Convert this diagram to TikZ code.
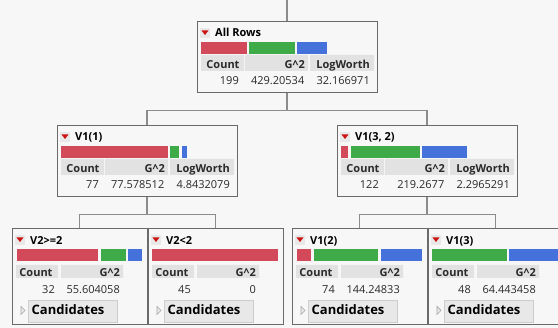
\documentclass[tikz,border=0pt]{standalone}
\usepackage{fontspec}
\setmainfont{Open Sans}
\definecolor{bgc}{HTML}{F7F7F7}
\definecolor{boxc}{HTML}{6A6A6A}
\definecolor{connc}{HTML}{8C8C8C}
\definecolor{hdrc}{HTML}{E2E2E2}
\definecolor{redc}{HTML}{D24A59}
\definecolor{greenc}{HTML}{3EAA48}
\definecolor{bluec}{HTML}{4571DB}
\definecolor{btnc}{HTML}{E8E8E8}
\definecolor{btnb}{HTML}{CDCDCD}
\definecolor{tric}{HTML}{CC1111}
\definecolor{tgray}{HTML}{A8A8A8}
\definecolor{txtc}{HTML}{2A2A2A}
\tikzset{
  frame/.style={draw=boxc, line width=1pt, fill=bgc, inner sep=0pt},
  conn/.style={draw=connc, line width=1.2pt},
  ttl/.style={font=\bfseries\fontsize{11}{13}\selectfont, inner sep=0pt, anchor=base west},
  htxt/.style={font=\bfseries\fontsize{11}{13}\selectfont, inner sep=0pt, text=txtc},
  vtxt/.style={font=\fontsize{11}{13}\selectfont, inner sep=0pt, anchor=base east, text=txtc},
  cand/.style={font=\bfseries\fontsize{13}{15}\selectfont, inner sep=0pt, anchor=base west},
}
\newcommand\seg[3]{\fill[#1] (#2,20) rectangle (#3,32.5);}
\newcommand\menubtn{\fill[btnc] (3,6) rectangle (13,16);
  \fill[tric] (4.5,8.5) -- (11.5,8.5) -- (8,13) -- cycle;}
% name, position, title, bars, count, G^2, LogWorth
\newcommand\bigbox[7]{%
  \begin{scope}[shift={(#2)}]
    \node[frame, minimum width=180pt, minimum height=71pt] (#1) at (90,35.5) {};
    \menubtn
    \node[ttl] (#1-t) at (18,15) {#3};
    #4
    \fill[hdrc] (4,33) rectangle (47,49) (48,33) rectangle (111,49) (113,33) rectangle (177,49);
    \node[htxt, anchor=base] (#1-h1) at (26,47) {Count};
    \node[htxt, anchor=base east] (#1-h2) at (108,47) {G\textasciicircum2};
    \node[htxt, anchor=base east] (#1-h3) at (173,47) {LogWorth};
    \node[vtxt] (#1-v1) at (42,63) {#5};
    \node[vtxt] (#1-v2) at (107.5,63) {#6};
    \node[vtxt] (#1-v3) at (173,63) {#7};
  \end{scope}}
% name, position, title, bars, count, G^2
\newcommand\smallbox[6]{%
  \begin{scope}[shift={(#2)}]
    \node[frame, minimum width=135pt, minimum height=96pt] (#1) at (67.5,48) {};
    \menubtn
    \node[ttl] (#1-t) at (18,16) {#3};
    #4
    \fill[hdrc] (4,36) rectangle (46,49) (49,36) rectangle (111,49);
    \node[htxt, anchor=base] (#1-h1) at (24,48) {Count};
    \node[htxt, anchor=base east] (#1-h2) at (108,48) {G\textasciicircum2};
    \node[vtxt] (#1-v1) at (43,65) {#5};
    \node[vtxt] (#1-v2) at (108,65) {#6};
    \fill[btnc, draw=btnb, line width=0.8pt] (16,71) rectangle (105,93);
    \draw[tgray, fill=btnc, line width=0.7pt] (9,77.5) -- (13,81.5) -- (9,85.5) -- cycle;
    \node[cand] (#1-c) at (19.5,86) {Candidates};
  \end{scope}}
\begin{document}
\begin{tikzpicture}[x=1pt, y=-1pt]
  \clip (0,0) rectangle (558,328);
  \fill[bgc] (0,0) rectangle (558,328);

  \bigbox{top}{197,22}{All Rows}{\seg{redc}{4}{50}\seg{greenc}{52}{98}\seg{bluec}{100}{130}}{199}{429.20534}{32.166971}
  \bigbox{L}{57,126}{V1(1)}{\seg{redc}{4}{111}\seg{greenc}{113}{122}\seg{bluec}{125}{130}}{77}{77.578512}{4.8432079}
  \bigbox{R}{337,126}{V1(3, 2)}{\seg{redc}{4}{11}\seg{greenc}{14}{83}\seg{bluec}{85}{130}}{122}{219.2677}{2.2965291}

  \smallbox{LL}{12,229}{V2>=2}{\seg{redc}{5}{86}\seg{greenc}{89}{114}\seg{bluec}{116}{130}}{32}{55.604058}
  \smallbox{LR}{148,229}{V2<2}{\seg{redc}{4}{130}}{45}{0}
  \smallbox{RL}{292,229}{V1(2)}{\seg{redc}{5}{19}\seg{greenc}{22}{86}\seg{bluec}{89}{130}}{74}{144.24833}
  \smallbox{RR}{428,229}{V1(3)}{\seg{greenc}{4}{79}\seg{bluec}{81}{130}}{48}{64.443458}

  \coordinate (entry) at (287,0);
  \draw[conn] (entry) -- (top.north);
  \draw[conn] (top.south) -- +(0,17) -| (L.north);
  \draw[conn] (top.south) -- +(0,17) -| (R.north);
  \draw[conn] (L.south) -- +(0,17) -| (LL.north);
  \draw[conn] (L.south) -- +(0,17) -| (LR.north);
  \draw[conn] (R.south) -- +(0,17) -| (RL.north);
  \draw[conn] (R.south) -- +(0,17) -| (RR.north);
\end{tikzpicture}
\end{document}
